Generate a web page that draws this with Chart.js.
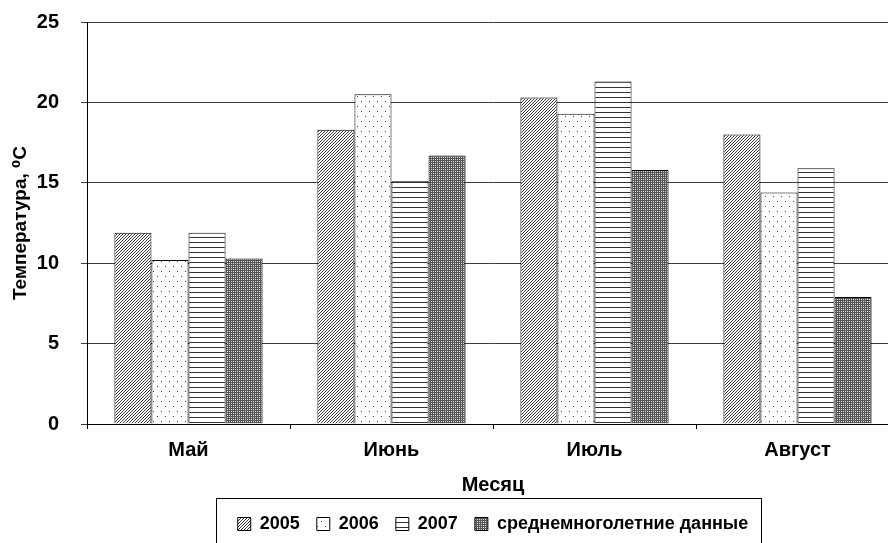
<!DOCTYPE html>
<html>
<head>
    <title>Температура по месяцам</title>
    <style>
        body {
            margin: 0;
            background-color: #ffffff;
            overflow: hidden;
        }
        canvas {
            display: block;
        }
    </style>
</head>
<body>
    <canvas id="chartCanvas" width="900" height="560"></canvas>

    <script src="https://cdn.jsdelivr.net/npm/chart.js"></script>
    <script>
        const months = ['Май', 'Июнь', 'Июль', 'Август'];
        const seriesNames = ['2005', '2006', '2007', 'среднемноголетние данные'];
        const temp2005 = [11.9, 18.3, 20.3, 18.0];
        const temp2006 = [10.2, 20.5, 19.3, 14.4];
        const temp2007 = [11.9, 15.1, 21.3, 15.9];
        const tempAvg = [10.3, 16.7, 15.8, 7.9];
        const yTicks = [0, 5, 10, 15, 20, 25];

        const fontFamily = "'Liberation Sans', Arial, 'DejaVu Sans', sans-serif";

        // small tiles for the black-and-white fills
        function makePattern(w, h, draw) {
            const c = document.createElement('canvas');
            c.width = w;
            c.height = h;
            const g = c.getContext('2d');
            g.fillStyle = '#ffffff';
            g.fillRect(0, 0, w, h);
            draw(g);
            return g.createPattern(c, 'repeat');
        }

        const diagFill = makePattern(3, 3, g => {
            g.fillStyle = '#3a3a3a';
            for (let i = 0; i < 3; i++) g.fillRect(2 - i, i, 1, 1);
        });
        const dotFill = makePattern(8, 10, g => {
            g.fillStyle = '#444444';
            g.fillRect(1, 1, 1, 1);
            g.fillRect(5, 6, 1, 1);
        });
        const lineFill = makePattern(1, 5, g => {
            g.fillStyle = '#333333';
            g.fillRect(0, 2, 1, 1);
        });
        const gridFill = makePattern(2, 2, g => {
            g.fillStyle = '#555555';
            g.fillRect(0, 0, 2, 2);
            g.fillStyle = '#d8d8d8';
            g.fillRect(1, 1, 1, 1);
        });

        // frame around the legend, as in the original figure
        const legendFrame = {
            id: 'legendFrame',
            afterDraw(chart) {
                const boxes = chart.legend.legendHitBoxes;
                if (!boxes || !boxes.length) return;
                const first = boxes[0];
                const last = boxes[boxes.length - 1];
                const left = Math.round(first.left - 22) + 0.5;
                const right = Math.round(last.left + last.width + 13) + 0.5;
                const top = Math.round(first.top + first.height / 2 - 26) + 0.5;
                const ctx = chart.ctx;
                ctx.save();
                ctx.strokeStyle = '#000000';
                ctx.lineWidth = 1;
                ctx.strokeRect(left, top, right - left, chart.height + 10 - top);
                ctx.restore();
            }
        };

        const ctx = document.getElementById('chartCanvas').getContext('2d');
        const chart = new Chart(ctx, {
            type: 'bar',
            data: {
                labels: months,
                datasets: [
                    { label: seriesNames[0], data: temp2005, backgroundColor: diagFill },
                    { label: seriesNames[1], data: temp2006, backgroundColor: dotFill },
                    { label: seriesNames[2], data: temp2007, backgroundColor: lineFill },
                    { label: seriesNames[3], data: tempAvg, backgroundColor: gridFill }
                ].map(ds => Object.assign(ds, {
                    borderColor: '#000000',
                    borderWidth: 1,
                    categoryPercentage: 0.73,
                    barPercentage: 1.0
                }))
            },
            options: {
                responsive: false,
                animation: false,
                devicePixelRatio: 1,
                layout: {
                    padding: { top: 22, right: 1, bottom: 17, left: 0 }
                },
                plugins: {
                    legend: {
                        position: 'bottom',
                        fullSize: false,
                        labels: {
                            boxWidth: 13,
                            boxHeight: 13,
                            padding: 17,
                            color: '#000000',
                            font: { family: fontFamily, size: 18, weight: 'bold' }
                        }
                    },
                    tooltip: { enabled: false }
                },
                scales: {
                    x: {
                        afterFit: scale => {
                            scale.height = 74;
                            scale.paddingLeft = 0;
                            scale.paddingRight = 0;
                        },
                        grid: {
                            drawOnChartArea: false,
                            drawTicks: true,
                            tickLength: 5,
                            color: '#000000'
                        },
                        border: { color: '#000000', width: 1 },
                        ticks: {
                            color: '#000000',
                            padding: 9,
                            font: { family: fontFamily, size: 20, weight: 'bold' }
                        },
                        title: {
                            display: true,
                            text: 'Месяц',
                            color: '#000000',
                            padding: { top: 0, bottom: 1 },
                            font: { family: fontFamily, size: 20, weight: 'bold' }
                        }
                    },
                    y: {
                        min: 0,
                        max: 25,
                        afterFit: scale => {
                            scale.width = 87;
                            scale.paddingTop = 0;
                            scale.paddingBottom = 0;
                        },
                        afterBuildTicks: scale => {
                            scale.ticks = yTicks.map(v => ({ value: v }));
                        },
                        grid: {
                            color: '#3c3c3c',
                            lineWidth: 1,
                            tickLength: 6
                        },
                        border: { color: '#000000', width: 1 },
                        ticks: {
                            color: '#000000',
                            padding: 22,
                            font: { family: fontFamily, size: 20, weight: 'bold' }
                        },
                        title: {
                            display: true,
                            text: 'Температура, ⁰C',
                            color: '#000000',
                            padding: { top: 9, bottom: 0 },
                            font: { family: fontFamily, size: 19, weight: 'bold' }
                        }
                    }
                }
            },
            plugins: [legendFrame]
        });
    </script>
</body>
</html>
